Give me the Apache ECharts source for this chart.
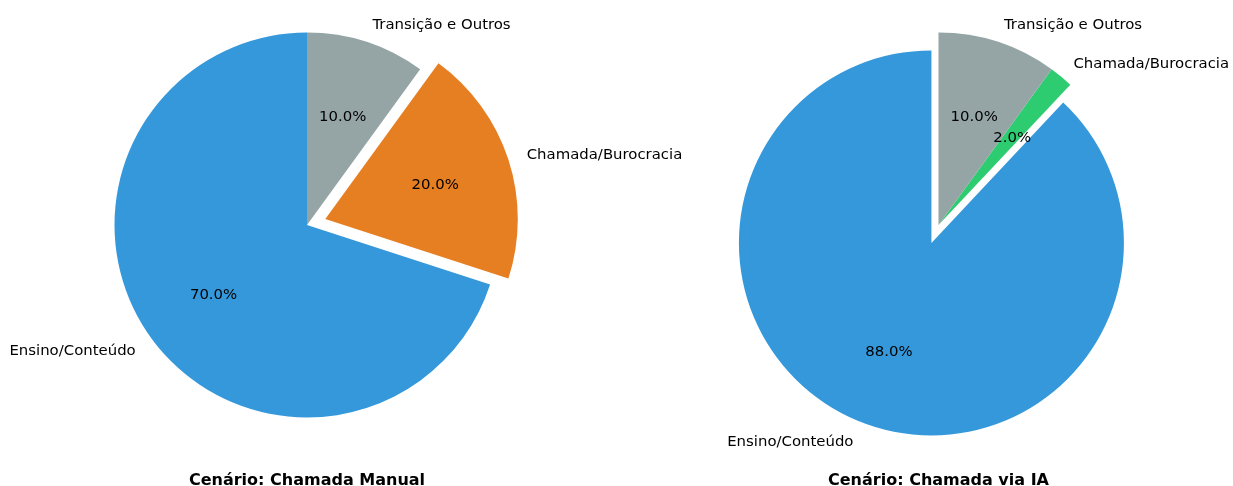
<!DOCTYPE html>
<html><head><meta charset="utf-8">
<script src="https://cdn.jsdelivr.net/npm/echarts@6/dist/echarts.min.js"></script>
<style>html,body{margin:0;padding:0;background:#fff}#c{width:1233px;height:486px}</style>
</head><body><div id="c"></div>
<script>
// ---- data ----
const categories = ['Ensino/Conteúdo', 'Chamada/Burocracia', 'Transição e Outros'];
const manualValues = [70, 20, 10];
const iaValues = [88, 2, 10];
const manualColors = ['#3498db', '#e67e22', '#95a5a6'];
const iaColors = ['#3498db', '#2ecc71', '#95a5a6'];
const manualExplode = [false, true, false];
const iaExplode = [true, false, false];
const titles = ['Cenário: Chamada Manual', 'Cenário: Chamada via IA'];

// ---- layout ----
const R = 192.5;
const centers = [[307, 225], [938.5, 225]];
const LABEL_DY = 2;            // text baseline nudge, like matplotlib's va=center
const FONT = 'DejaVu Sans';
const LABEL_SIZE = 14.9;
const TITLE_SIZE = 16;

function pieSeries(values, colors, explode, center) {
  const items = values.map((v, i) => ({
    name: categories[i], value: v, selected: explode[i],
    itemStyle: { color: colors[i], borderWidth: 0 }
  }));
  const clear = items.map(d => ({
    name: d.name, value: d.value, selected: d.selected,
    itemStyle: { color: 'rgba(0,0,0,0)', borderWidth: 0 }
  }));
  const labelCenter = [center[0], center[1] + LABEL_DY];
  const common = {
    type: 'pie', startAngle: 90, clockwise: false,
    selectedMode: 'multiple', selectedOffset: 0.1 * R,
    avoidLabelOverlap: false, silent: true, animation: false,
    emphasis: { disabled: true }, minAngle: 0
  };
  const wedges = Object.assign({}, common, {
    center: center, radius: [0, R], data: items,
    label: { show: false }, labelLine: { show: false }
  });
  const names = Object.assign({}, common, {
    center: labelCenter, radius: [0, R], data: clear,
    label: {
      show: true, position: 'outside', formatter: '{b}',
      fontFamily: FONT, fontSize: LABEL_SIZE, color: '#000',
      distanceToLabelLine: 0
    },
    labelLine: { show: false, length: 0.1 * R, length2: 0 }
  });
  const pct = Object.assign({}, common, {
    center: labelCenter, radius: [0, 1.2 * R - 6], data: clear,
    label: {
      show: true, position: 'inside',
      formatter: p => p.value.toFixed(1) + '%',
      fontFamily: FONT, fontSize: LABEL_SIZE, color: '#000'
    },
    labelLine: { show: false }
  });
  return [wedges, names, pct];
}

const chart = echarts.init(document.getElementById('c'), null, { renderer: 'canvas' });
chart.setOption({
  backgroundColor: '#fff',
  animation: false,
  series: [
    ...pieSeries(manualValues, manualColors, manualExplode, centers[0]),
    ...pieSeries(iaValues, iaColors, iaExplode, centers[1])
  ],
  graphic: titles.map((t, i) => ({
    type: 'text', x: centers[i][0], y: 481,
    style: {
      text: t, fontFamily: FONT, fontSize: TITLE_SIZE, fontWeight: 'bold',
      fill: '#000', align: 'center', verticalAlign: 'middle'
    }
  }))
});
</script>
</body></html>
